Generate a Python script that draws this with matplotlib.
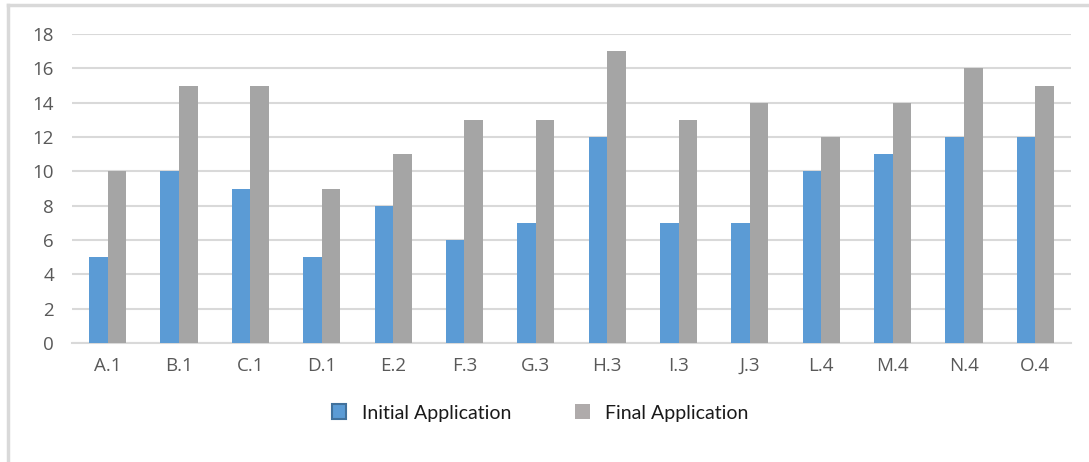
import matplotlib.pyplot as plt
import numpy as np
from matplotlib.lines import Line2D

# 数据
categories = ["A.1", "B.1", "C.1", "D.1", "E.2", "F.3", "G.3", "H.3", "I.3", "J.3", "L.4", "M.4", "N.4", "O.4"]
initial = [5, 10, 9, 5, 8, 6, 7, 12, 7, 7, 10, 11, 12, 12]
final = [10, 15, 15, 9, 11, 13, 13, 17, 13, 14, 12, 14, 16, 15]

plt.rcParams['font.family'] = ['Open Sans', 'DejaVu Sans']

fig = plt.figure(figsize=(10.89, 4.62), dpi=100)
ax = fig.add_axes([0.0661, 0.2576, 0.9174, 0.6684])

# 条形宽度和位置
width_bar = 0.26
x = np.arange(len(categories))
ax.bar(x - width_bar / 2, initial, width=width_bar, color="#5B9BD5", label="Initial Application", zorder=3)
ax.bar(x + width_bar / 2, final, width=width_bar, color="#A5A5A5", label="Final Application", zorder=3)

ax.set_xlim(-0.5, len(categories) - 0.5)
ax.set_ylim(0, 18)
ax.set_yticks(range(0, 19, 2))
ax.set_xticks(x)
ax.set_xticklabels(categories)

# 网格和坐标轴样式
ax.grid(axis="y", color="#D9D9D9", linewidth=1.5, zorder=0)
for s in ["top", "right", "left"]:
    ax.spines[s].set_visible(False)
ax.spines["bottom"].set_color("#D9D9D9")
ax.spines["bottom"].set_linewidth(1.5)
ax.tick_params(length=0, labelsize=13.5, labelcolor="#595959")
ax.tick_params(axis="x", pad=10)
ax.tick_params(axis="y", pad=13)

# 图例
handles = [
    plt.Rectangle((0, 0), 1, 1, facecolor="#5B9BD5", edgecolor="#41719C", linewidth=1.5),
    plt.Rectangle((0, 0), 1, 1, facecolor="#AFABAB", edgecolor="none"),
]
fig.legend(handles, ["Initial Application", "Final Application"], loc="center",
           bbox_to_anchor=(0.496, 0.106), ncol=2, frameon=False,
           prop={"family": ["Lato", "DejaVu Sans"], "size": 14},
           handlelength=0.75, handleheight=0.8, handletextpad=0.8, columnspacing=3.3,
           labelcolor="#1A1A1A")

# 外框
fig.add_artist(Line2D([8 / 1089, 1.0], [1 - 5 / 462, 1 - 5 / 462], color="#D9D9D9", linewidth=2.5,
                      transform=fig.transFigure))
fig.add_artist(Line2D([8 / 1089, 8 / 1089], [0, 1 - 5 / 462], color="#D9D9D9", linewidth=2.5,
                      transform=fig.transFigure))

plt.savefig("out.png")
